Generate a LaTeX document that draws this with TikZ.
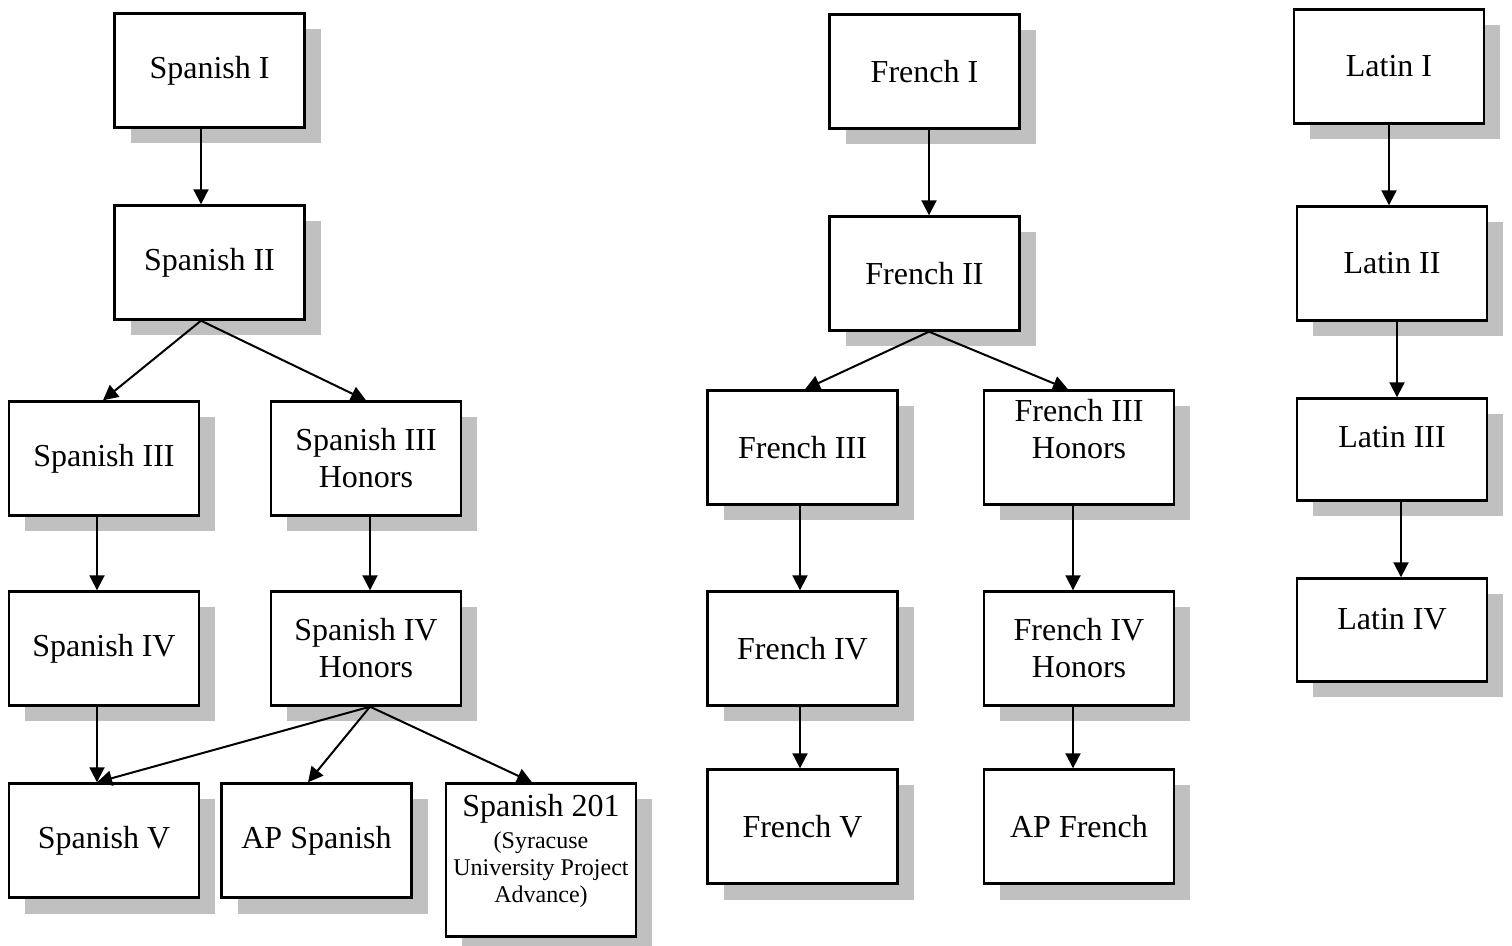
\documentclass[tikz,border=0pt]{standalone}
\usepackage{fontspec}
\setmainfont{Liberation Serif}
\definecolor{shadowgray}{RGB}{192, 192, 192}
\usepackage{tikz}
\usetikzlibrary{arrows.meta, shadows}

\begin{document}
\begin{tikzpicture}[x=0.5pt, y=-0.5pt,
  course/.style={draw, line width=1.2pt, fill=white, minimum width=95pt, minimum height=57pt,
    align=center, font=\fontsize{16}{18.5}\selectfont,
    drop shadow={shadow xshift=8pt, shadow yshift=-8pt, fill=shadowgray, opacity=1}},
  arr/.style={-{Triangle[length=7.5pt, width=7.5pt]}, line width=1pt}]
  \useasboundingbox (0,0) rectangle (1512,946);

  % Spanish track
  \node[course] (sp1) at (209.5, 70.5) {Spanish I};
  \node[course] (sp2) at (209.5, 262.5) {Spanish II};
  \node[course] (sp3) at (104, 458.5) {Spanish III};
  \node[course] (sp3h) at (366, 458.5) {Spanish III\\Honors};
  \node[course] (sp4) at (104, 648.5) {Spanish IV};
  \node[course] (sp4h) at (366, 648.5) {Spanish IV\\Honors};
  \node[course] (sp5) at (104, 840.5) {Spanish V};
  \node[course] (apsp) at (316.5, 840.5) {AP Spanish};
  \node[course, minimum height=76.5pt, inner ysep=3pt, inner xsep=1pt] (sp201) at (541, 860) {\parbox[c][66pt][t]{92pt}{\centering Spanish 201\par\vspace{2.5pt}{\fontsize{12}{13.5}\selectfont (Syracuse\\University Project\\Advance)\par}}};

  \draw[arr] ([xshift=-4.25pt]sp1.south) -- ([xshift=-4.25pt]sp2.north);
  \draw[arr] ([xshift=-4.25pt]sp2.south) -- ([xshift=-0.5pt]sp3.north);
  \draw[arr] ([xshift=-4.25pt]sp2.south) -- (sp3h.north);
  \draw[arr] ([xshift=-3.5pt]sp3.south) -- ([xshift=-3.5pt]sp4.north);
  \draw[arr] ([xshift=2pt]sp3h.south) -- ([xshift=2pt]sp4h.north);
  \draw[arr] ([xshift=-3.5pt]sp4.south) -- ([xshift=-3.5pt]sp5.north);
  \draw[arr] ([xshift=2pt]sp4h.south) -- ([xshift=-3.5pt]sp5.north);
  \draw[arr] ([xshift=2pt]sp4h.south) -- ([xshift=-4.25pt]apsp.north);
  \draw[arr] ([xshift=2pt]sp4h.south) -- ([xshift=-4.5pt]sp201.north);

  % French track
  \node[course] (fr1) at (924.5, 71.5) {French I};
  \node[course] (fr2) at (924.5, 273.5) {French II};
  \node[course] (fr3) at (802.5, 447.5) {French III};
  \node[course, inner xsep=1pt] (fr3h) at (1079, 447.5) {\parbox[c][48pt][t]{92pt}{\centering French III\\Honors}};
  \node[course] (fr4) at (802.5, 648.5) {French IV};
  \node[course] (fr4h) at (1079, 648.5) {French IV\\Honors};
  \node[course] (fr5) at (802.5, 826.5) {French V};
  \node[course] (apfr) at (1079, 826.5) {AP French};

  \draw[arr] ([xshift=2.25pt]fr1.south) -- ([xshift=2.25pt]fr2.north);
  \draw[arr] ([xshift=2.25pt]fr2.south) -- ([xshift=1.25pt]fr3.north);
  \draw[arr] ([xshift=2.25pt]fr2.south) -- ([xshift=-5.5pt]fr3h.north);
  \draw[arr] ([xshift=-1.25pt]fr3.south) -- ([xshift=-1.25pt]fr4.north);
  \draw[arr] ([xshift=-3pt]fr3h.south) -- ([xshift=-3pt]fr4h.north);
  \draw[arr] ([xshift=-1.25pt]fr4.south) -- ([xshift=-1.25pt]fr5.north);
  \draw[arr] ([xshift=-3pt]fr4h.south) -- ([xshift=-3pt]apfr.north);

  % Latin track
  \node[course] (la1) at (1389, 66.5) {Latin I};
  \node[course] (la2) at (1392, 263.5) {Latin II};
  \node[course, minimum height=51pt, text depth=12.5pt] (la3) at (1392, 449.5) {Latin III};
  \node[course, minimum height=51.5pt, text depth=11pt] (la4) at (1392, 630) {Latin IV};

  \draw[arr] (la1.south) -- ([xshift=-1.5pt]la2.north);
  \draw[arr] ([xshift=2.5pt]la2.south) -- ([xshift=2.5pt]la3.north);
  \draw[arr] ([xshift=4.5pt]la3.south) -- ([xshift=4.5pt]la4.north);
\end{tikzpicture}
\end{document}
